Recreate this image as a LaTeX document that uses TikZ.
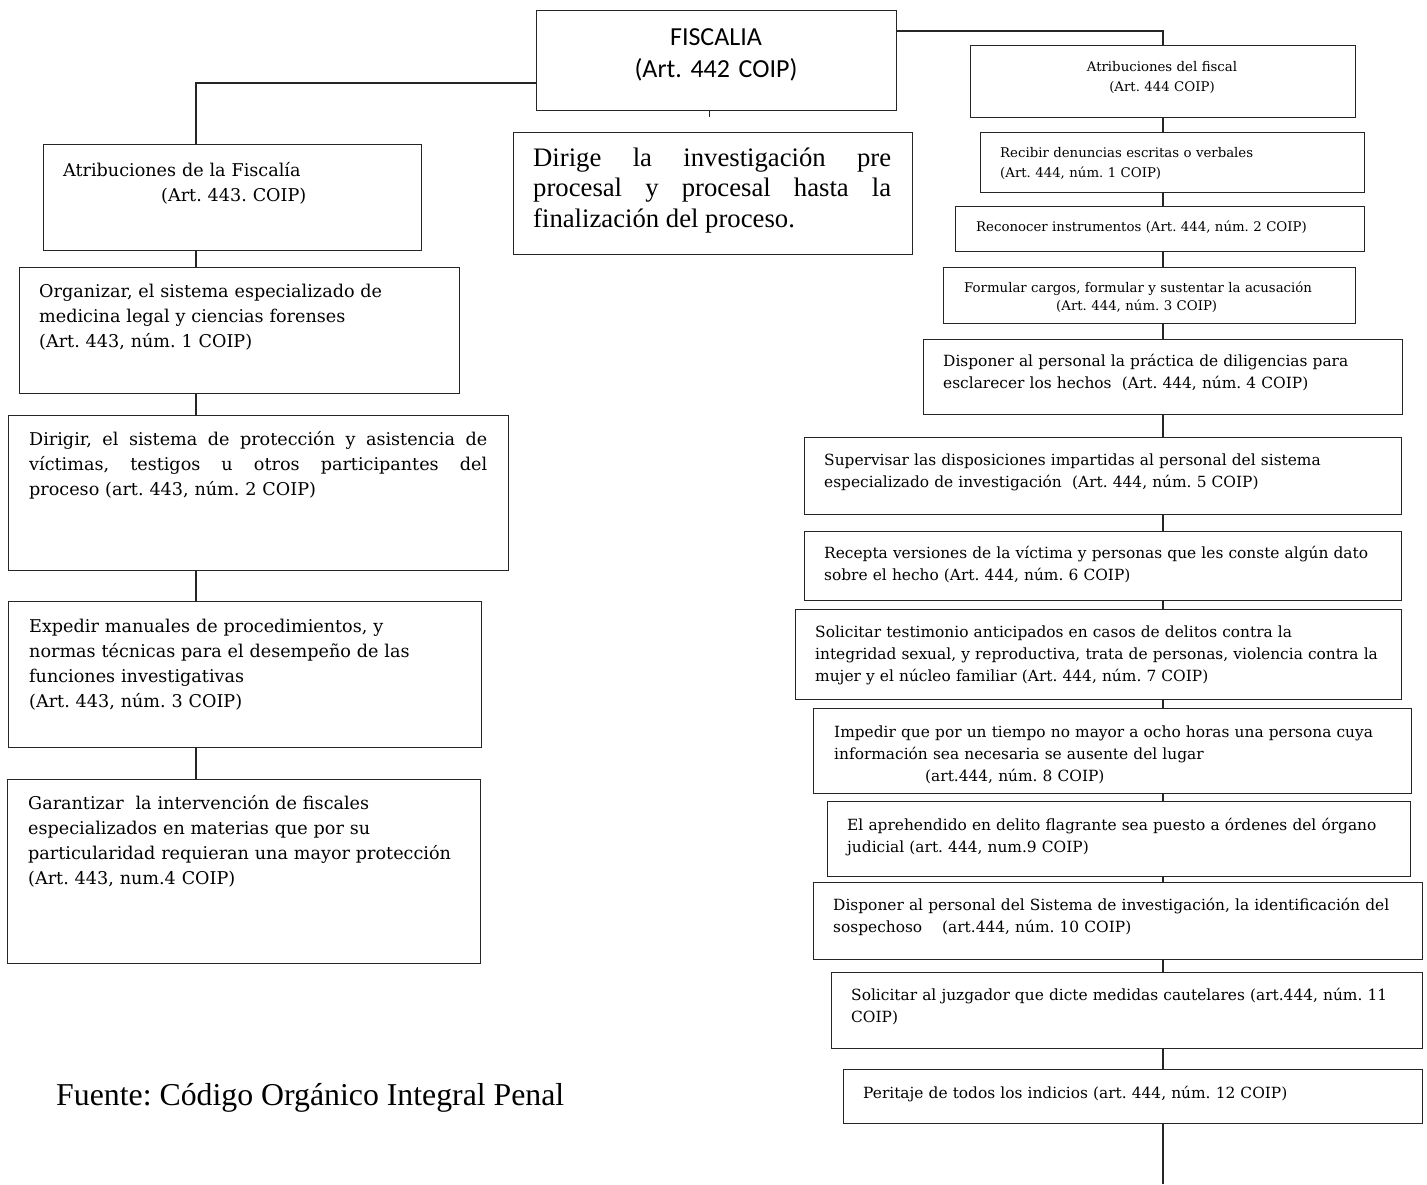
\documentclass[tikz,border=0pt]{standalone}
\usepackage{fontspec}
\usepackage{tikz}
\newfontfamily\cambria{DejaVu Serif}
\newfontfamily\calibri{Carlito}
\newfontfamily\timesrm{Liberation Serif}
\newcommand{\justline}[2]{\makebox[#1][s]{\spaceskip=0pt\xspaceskip=0pt\relax #2}}
\tikzset{
	box/.style={draw=black!85, line width=1pt, inner sep=0pt, anchor=north west},
	link/.style={draw=black!85, line width=1.5pt},
	txt/.style={inner sep=0pt, anchor=base west, align=left},
	lefttxt/.style={txt, font=\cambria\fontsize{17.6}{25}\selectfont},
	toptxt/.style={txt, font=\cambria\fontsize{13.3}{20}\selectfont},
	righttxt/.style={txt, font=\cambria\fontsize{15.4}{22}\selectfont}
}

\begin{document}
\frenchspacing
\begin{tikzpicture}[x=1pt,y=-1pt]
	\useasboundingbox (0,0) rectangle (1427,1184);

	\node[box, minimum width=360, minimum height=100] (fis) at (536,10) {};
	\node[inner sep=0pt, anchor=base, align=center, text width=340, font=\calibri\fontsize{26}{32}\selectfont] (fistxt) at (716,45) {FISCALIA\\(Art. 442 COIP)};

	\node[box, minimum width=399, minimum height=122] (dirg) at (513,132) {};
	\node[txt, text width=362, font=\timesrm\fontsize{26.7}{30.5}\selectfont] (dirgtxt) at (533,166) {\justline{358pt}{Dirige la investigación pre}\\\justline{358pt}{procesal y procesal hasta la}\\\spaceskip=0pt\relax finalización del proceso.};

	\node[box, minimum width=378, minimum height=106] (afis) at (43,144) {};
	\node[lefttxt, text width=350] (afistxt) at (63,176) {Atribuciones de la Fiscalía\\\hspace*{98pt}(Art. 443. COIP)};

	\node[box, minimum width=440, minimum height=126] (org) at (19,267) {};
	\node[lefttxt, text width=415] (orgtxt) at (39,297) {Organizar, el sistema especializado de\\medicina legal y ciencias forenses\\(Art. 443, núm. 1 COIP)};

	\node[box, minimum width=500, minimum height=155] (dir) at (8,415) {};
	\node[lefttxt, text width=462] (dirtxt) at (29,445) {\justline{458pt}{Dirigir, el sistema de protección y asistencia de}\\\justline{458pt}{víctimas, testigos u otros participantes del}\\proceso (art. 443, núm. 2 COIP)};

	\node[box, minimum width=473, minimum height=146] (exp) at (8,601) {};
	\node[lefttxt, text width=445] (exptxt) at (29,632) {Expedir manuales de procedimientos, y\\normas técnicas para el desempeño de las\\funciones investigativas\\(Art. 443, núm. 3 COIP)};

	\node[box, minimum width=473, minimum height=184] (gar) at (7,779) {};
	\node[lefttxt, text width=450] (gartxt) at (28,809) {Garantizar\ \ la intervención de fiscales\\especializados en materias que por su\\particularidad requieran una mayor protección\\(Art. 443, num.4 COIP)};

	\node[txt, text width=560, font=\timesrm\fontsize{31.8}{36}\selectfont] (fuente) at (56,1105) {\spaceskip=0pt\relax Fuente: Código Orgánico Integral Penal};

	\node[box, minimum width=385, minimum height=72] (afib) at (970,45) {};
	\node[inner sep=0pt, anchor=base, align=center, text width=360, font=\cambria\fontsize{13.3}{20}\selectfont] (afibtxt) at (1162,71) {Atribuciones del fiscal\\(Art. 444 COIP)};

	\node[box, minimum width=384, minimum height=60] (rec) at (980,132) {};
	\node[toptxt, text width=360] (rectxt) at (1000,157) {Recibir denuncias escritas o verbales\\(Art. 444, núm. 1 COIP)};

	\node[box, minimum width=409, minimum height=45] (recon) at (955,206) {};
	\node[toptxt, text width=385] (recontxt) at (976,231) {Reconocer instrumentos (Art. 444, núm. 2 COIP)};

	\node[box, minimum width=412, minimum height=56] (form) at (943,267) {};
	\node[txt, text width=390, font=\cambria\fontsize{13.3}{18}\selectfont] (formtxt) at (964,292) {Formular cargos, formular y sustentar la acusación\\\hspace*{92pt}(Art. 444, núm. 3 COIP)};

	\node[box, minimum width=479, minimum height=75] (disp) at (923,339) {};
	\node[righttxt, text width=455] (disptxt) at (943,366) {Disponer al personal la práctica de diligencias para\\esclarecer los hechos\ \ (Art. 444, núm. 4 COIP)};

	\node[box, minimum width=597, minimum height=77] (sup) at (804,437) {};
	\node[righttxt, text width=570] (suptxt) at (824,465) {Supervisar las disposiciones impartidas al personal del sistema\\especializado de investigación\ \ (Art. 444, núm. 5 COIP)};

	\node[box, minimum width=597, minimum height=69] (recp) at (804,531) {};
	\node[righttxt, text width=570] (recptxt) at (824,558) {Recepta versiones de la víctima y personas que les conste algún dato\\sobre el hecho (Art. 444, núm. 6 COIP)};

	\node[box, minimum width=606, minimum height=90] (sol) at (795,609) {};
	\node[righttxt, text width=585] (soltxt) at (815,637) {Solicitar testimonio anticipados en casos de delitos contra la\\integridad sexual, y reproductiva, trata de personas, violencia contra la\\mujer y el núcleo familiar (Art. 444, núm. 7 COIP)};

	\node[box, minimum width=598, minimum height=85] (imp) at (813,708) {};
	\node[righttxt, text width=575] (imptxt) at (834,737) {Impedir que por un tiempo no mayor a ocho horas una persona cuya\\información sea necesaria se ausente del lugar\\\hspace*{91pt}(art.444, núm. 8 COIP)};

	\node[box, minimum width=583, minimum height=75] (apr) at (827,801) {};
	\node[righttxt, text width=560] (aprtxt) at (847,830) {El aprehendido en delito flagrante sea puesto a órdenes del órgano\\judicial (art. 444, num.9 COIP)};

	\node[box, minimum width=609, minimum height=77] (ident) at (813,882) {};
	\node[righttxt, text width=585] (identtxt) at (833,910) {Disponer al personal del Sistema de investigación, la identificación del\\\makebox[109pt][l]{sospechoso}(art.444, núm. 10 COIP)};

	\node[box, minimum width=591, minimum height=76] (solj) at (831,972) {};
	\node[righttxt, text width=565] (soljtxt) at (851,1000) {Solicitar al juzgador que dicte medidas cautelares (art.444, núm. 11\\COIP)};

	\node[box, minimum width=579, minimum height=54] (per) at (843,1069) {};
	\node[righttxt, text width=555] (pertxt) at (863,1098) {Peritaje de todos los indicios (art. 444, núm. 12 COIP)};

	\coordinate (lx) at (196,0);
	\coordinate (ly) at (0,83);
	\coordinate (rx) at (1163,0);
	\coordinate (ry) at (0,31);
	\coordinate (tick) at (709,117);
	\coordinate (bottom) at (1163,1184);

	\draw[link] (fis.west |- ly) -| (afis.north -| lx);
	\draw[link] (fis.east |- ry) -| (afib.north -| rx);
	\draw[draw=black!85, line width=1pt] (fis.south -| tick) -- (tick);

	\draw[link] (afis.south -| lx) -- (org.north -| lx);
	\draw[link] (org.south -| lx) -- (dir.north -| lx);
	\draw[link] (dir.south -| lx) -- (exp.north -| lx);
	\draw[link] (exp.south -| lx) -- (gar.north -| lx);

	\draw[link] (afib.south -| rx) -- (rec.north -| rx);
	\draw[link] (rec.south -| rx) -- (recon.north -| rx);
	\draw[link] (recon.south -| rx) -- (form.north -| rx);
	\draw[link] (form.south -| rx) -- (disp.north -| rx);
	\draw[link] (disp.south -| rx) -- (sup.north -| rx);
	\draw[link] (sup.south -| rx) -- (recp.north -| rx);
	\draw[link] (recp.south -| rx) -- (sol.north -| rx);
	\draw[link] (sol.south -| rx) -- (imp.north -| rx);
	\draw[link] (imp.south -| rx) -- (apr.north -| rx);
	\draw[link] (apr.south -| rx) -- (ident.north -| rx);
	\draw[link] (ident.south -| rx) -- (solj.north -| rx);
	\draw[link] (solj.south -| rx) -- (per.north -| rx);
	\draw[link] (per.south -| rx) -- (bottom);
\end{tikzpicture}
\end{document}
